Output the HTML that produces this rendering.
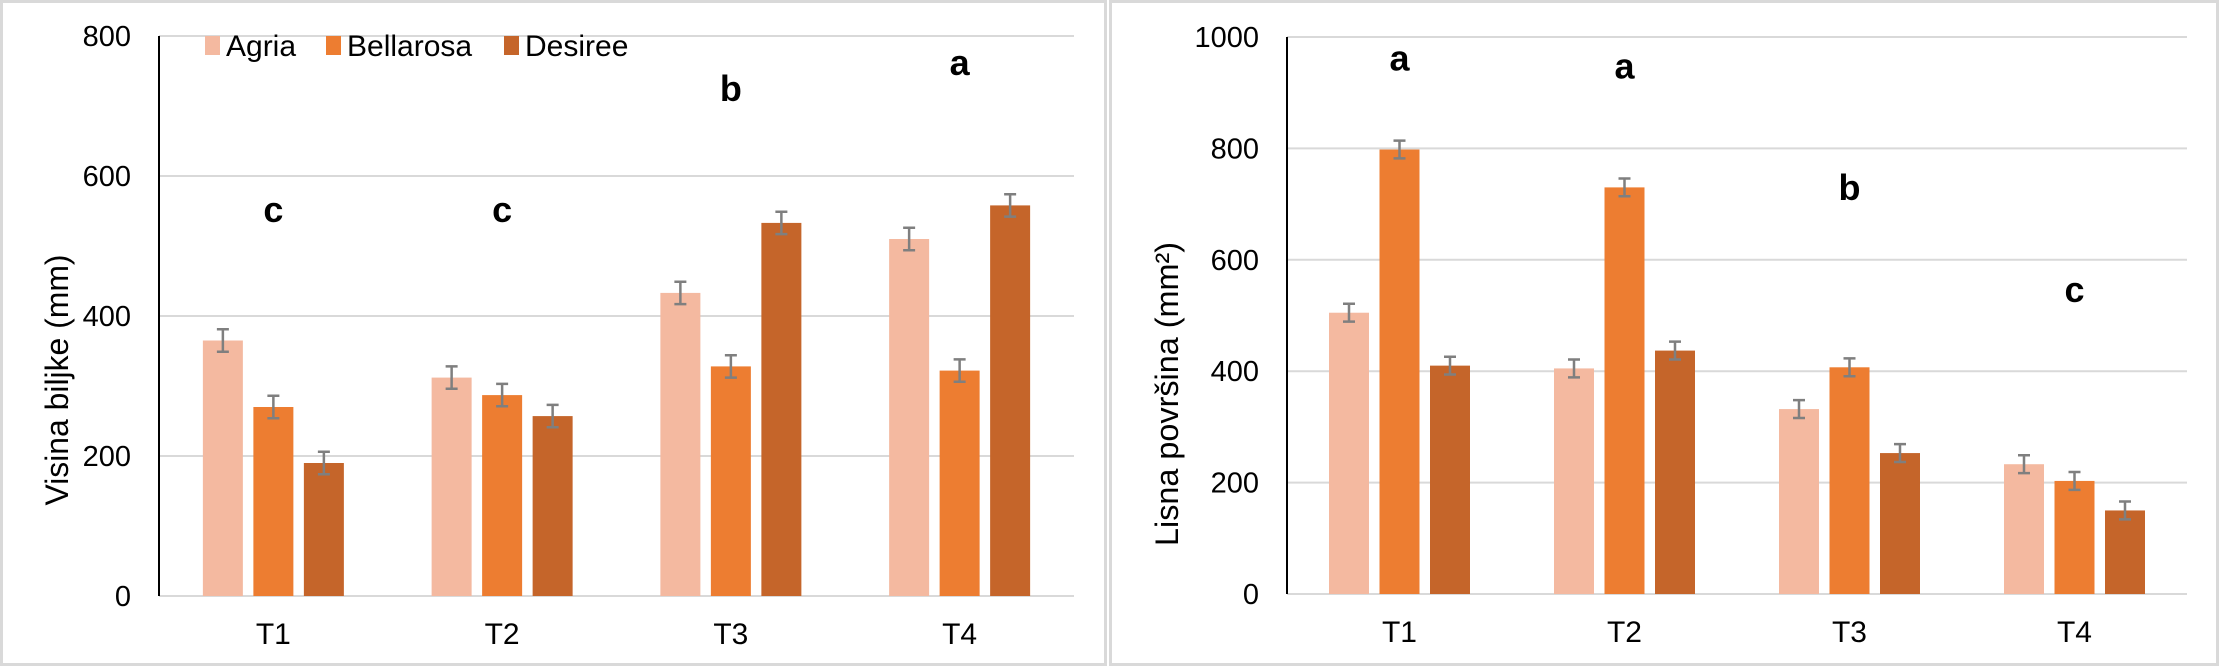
<!DOCTYPE html>
<html><head><meta charset="utf-8"><style>
html,body{margin:0;padding:0;background:#fff;}
svg{display:block;font-family:"Liberation Sans",sans-serif;}
</style></head><body>
<svg id="chart" width="2219" height="666" viewBox="0 0 2219 666" xmlns="http://www.w3.org/2000/svg">
<rect x="0" y="0" width="2219" height="666" fill="#fff"/>
<rect x="1.5" y="1.5" width="1104" height="663" fill="none" stroke="#d9d9d9" stroke-width="3"/>
<rect x="1110.5" y="1.5" width="1107" height="663" fill="none" stroke="#d9d9d9" stroke-width="3"/>
<g id="left"></g>
<g id="right"></g>
</svg>
<script>
const categories = ["T1","T2","T3","T4"];
const seriesNames = ["Agria","Bellarosa","Desiree"];
const leftAgria = [365,312,433,510];
const leftBellarosa = [270,287,328,322];
const leftDesiree = [190,257,533,558];
const leftErr = [16,16,16,16];
const leftTicks = [0,200,400,600,800];
const leftLetters = ["c","c","b","a"];
const leftLetterValues = [550,550,723,760];
const rightAgria = [505,405,332,233];
const rightBellarosa = [798,730,407,203];
const rightDesiree = [410,437,253,150];
const rightErr = [16,16,16,16];
const rightTicks = [0,200,400,600,800,1000];
const rightLetters = ["a","a","b","c"];
const rightLetterValues = [960,945,727,544];

const colors = ["#f4b9a0","#ed7d31","#c5652a"];
const NS = "http://www.w3.org/2000/svg";
function mk(parent, tag, attrs, text){
  const e = document.createElementNS(NS, tag);
  for (const k in attrs) e.setAttribute(k, attrs[k]);
  if (text !== undefined) e.textContent = text;
  parent.appendChild(e);
  return e;
}
function drawPanel(g, cfg){
  const y = v => cfg.y0 - (v / cfg.max) * (cfg.y0 - cfg.yTop);
  const cw = (cfg.x1 - cfg.x0) / categories.length;
  const xc = i => cfg.x0 + cw * (i + 0.5);
  cfg.ticks.forEach(t => {
    if (t > 0) {
      const l = mk(g, "line", {x1: cfg.x0, x2: cfg.x1, y1: y(t), y2: y(t), stroke: "#d9d9d9", "stroke-width": 2});
      
      
    }
    const tx = mk(g, "text", {x: cfg.tickX, y: y(t) + 10, "text-anchor": "end", "font-size": 29, fill: "#000"}, String(t));
    
    
  });
  const base = mk(g, "line", {x1: cfg.x0, x2: cfg.x1, y1: cfg.y0, y2: cfg.y0, stroke: "#d9d9d9", "stroke-width": 2});
  
  
  const ax = mk(g, "line", {x1: cfg.x0, x2: cfg.x0, y1: cfg.yTop, y2: cfg.y0, stroke: "#000", "stroke-width": 2});
  
  
  const bw = 40, step = 50.5;
  cfg.series.forEach((vals, s) => {
    vals.forEach((v, i) => {
      const bx = xc(i) + (s - 1) * step - bw / 2;
      const r = mk(g, "rect", {x: bx, y: y(v), width: bw, height: cfg.y0 - y(v), fill: colors[s]});
      
      
      const cx = bx + bw / 2, e = cfg.err[i];
      const eb = mk(g, "path", {d: `M${cx},${y(v + e)}V${y(v - e)}M${cx - 6},${y(v + e)}H${cx + 6}M${cx - 6},${y(v - e)}H${cx + 6}`, stroke: "#7f7f7f", "stroke-width": 2.5, fill: "none"});
      
      
    });
  });
  categories.forEach((c, i) => {
    const t = mk(g, "text", {x: xc(i), y: cfg.y0 + 48, "text-anchor": "middle", "font-size": 30, fill: "#000"}, c);
    
    
    const L = mk(g, "text", {x: xc(i), y: y(cfg.letterVals[i]) + 11, "text-anchor": "middle", "font-size": 36, "font-weight": "bold", fill: "#000"}, cfg.letters[i]);
    
    
  });
  const yt = mk(g, "text", {transform: `translate(${cfg.titleX},${cfg.titleY}) rotate(-90)`, "text-anchor": "middle", "font-size": 32, fill: "#000", textLength: cfg.titleLen, lengthAdjust: "spacingAndGlyphs"});
  
  
  return yt;
}
const left = document.getElementById("left");
const lt = drawPanel(left, {x0:159, x1:1074, y0:596, yTop:36, max:800, ticks:leftTicks, tickX:131,
  series:[leftAgria,leftBellarosa,leftDesiree], err:leftErr, letters:leftLetters, letterVals:leftLetterValues,
  titleX:68, titleY:380, titleLen:251});
lt.textContent = "Visina biljke (mm)";
const right = document.getElementById("right");
const rt = drawPanel(right, {x0:1287, x1:2187, y0:594, yTop:37, max:1000, ticks:rightTicks, tickX:1259,
  series:[rightAgria,rightBellarosa,rightDesiree], err:rightErr, letters:rightLetters, letterVals:rightLetterValues,
  titleX:1178, titleY:394, titleLen:304});
rt.textContent = "Lisna površina (mm²)";
const lg = mk(left, "g", {});


const legX = [205, 326, 504];
seriesNames.forEach((n, s) => {
  const sq = mk(lg, "rect", {x: legX[s], y: 36, width: 15, height: 19, fill: colors[s]});
  
  
  const t = mk(lg, "text", {x: legX[s] + 21, y: 56, "font-size": 30, fill: "#000"}, n);
  
  
});
</script>
</body></html>
